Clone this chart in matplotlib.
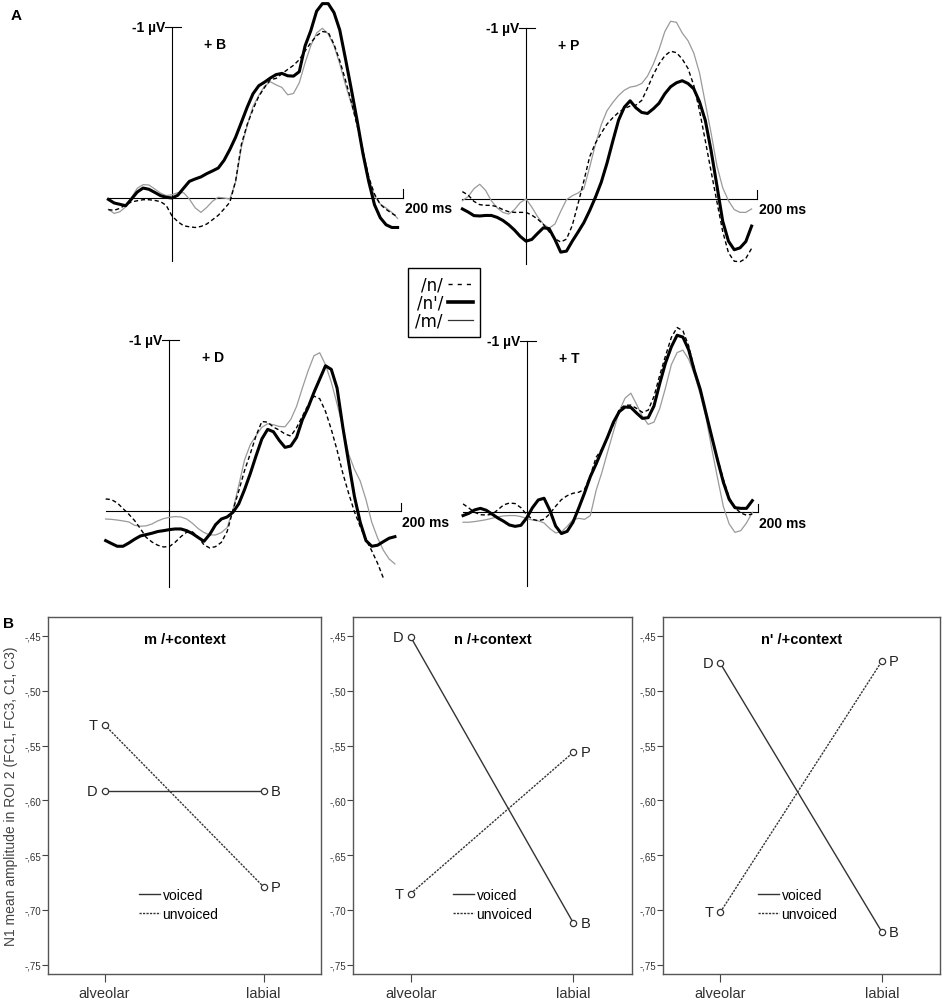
import numpy as np
import matplotlib.pyplot as plt
from matplotlib.lines import Line2D

plt.rcParams['font.family'] = ['Liberation Sans', 'DejaVu Sans']
NARROW = ['Liberation Sans Narrow', 'Liberation Sans', 'DejaVu Sans']

W, H = 945, 1004
fig = plt.figure(figsize=(W / 100, H / 100), dpi=100)


def px_axes(l, t, r, b):
    return fig.add_axes([l / W, 1 - b / H, (r - l) / W, (b - t) / H])


# ---------------- data: panel A (ERP waveforms in µV, negative plotted up) ----------------
t_ms = np.arange(-55, 196, 5)
erp_contexts = ['+ B', '+ P', '+ D', '+ T']

n_B = [0.068, 0.072, 0.06, 0.039, 0.023, 0.016, 0.01, 0.01, 0.014, 0.021,
       0.043, 0.105, 0.138, 0.162, 0.168, 0.172, 0.166, 0.152, 0.127, 0.101,
       0.064, 0.025, -0.10, -0.314, -0.429, -0.517, -0.593, -0.645, -0.69, -0.698,
       -0.725, -0.75, -0.774, -0.807, -0.858, -0.906, -0.947, -0.971, -0.967, -0.897,
       -0.801, -0.686, -0.56, -0.423, -0.273, -0.123, -0.023, 0.037, 0.066, 0.09, 0.109]
np_B = [0.008, 0.029, 0.037, 0.045, 0.006, -0.035, -0.058, -0.051, -0.033, -0.014,
        -0.004, 0.0, -0.016, -0.057, -0.097, -0.111, -0.123, -0.142, -0.158, -0.175,
        -0.22, -0.283, -0.355, -0.442, -0.53, -0.608, -0.655, -0.676, -0.70, -0.72,
        -0.727, -0.713, -0.711, -0.737, -0.887, -0.977, -1.09, -1.134, -1.134, -1.082,
        -0.98, -0.81, -0.634, -0.452, -0.26, -0.097, 0.039, 0.115, 0.156, 0.172, 0.172]
m_B = [0.066, 0.09, 0.08, 0.051, -0.004, -0.057, -0.078, -0.076, -0.053, -0.029,
       -0.014, -0.019, -0.031, -0.031, 0.006, 0.057, 0.084, 0.055, 0.019, -0.004,
       0.0, 0.006, -0.094, -0.296, -0.423, -0.534, -0.598, -0.653, -0.678, -0.66,
       -0.645, -0.602, -0.61, -0.672, -0.788, -0.889, -0.963, -0.99, -0.957, -0.889,
       -0.782, -0.659, -0.55, -0.435, -0.283, -0.115, -0.012, 0.035, 0.058, 0.084, 0.119]

n_P = [-0.043, -0.023, 0.014, 0.033, 0.037, 0.037, 0.045, 0.062, 0.074, 0.078,
       0.078, 0.078, 0.094, 0.117, 0.148, 0.191, 0.232, 0.251, 0.234, 0.154,
       0.027, -0.105, -0.246, -0.326, -0.384, -0.437, -0.474, -0.505, -0.528, -0.542,
       -0.548, -0.575, -0.647, -0.725, -0.788, -0.836, -0.862, -0.854, -0.817, -0.762,
       -0.663, -0.515, -0.339, -0.16, 0.016, 0.189, 0.314, 0.363, 0.366, 0.347, 0.288]
np_P = [0.058, 0.076, 0.097, 0.099, 0.096, 0.096, 0.107, 0.125, 0.15, 0.181,
        0.218, 0.246, 0.236, 0.201, 0.168, 0.173, 0.236, 0.31, 0.304, 0.246,
        0.193, 0.138, 0.068, -0.01, -0.097, -0.209, -0.337, -0.46, -0.536, -0.573,
        -0.532, -0.505, -0.499, -0.526, -0.559, -0.614, -0.655, -0.678, -0.69, -0.674,
        -0.643, -0.567, -0.458, -0.281, -0.078, 0.129, 0.246, 0.296, 0.285, 0.248, 0.158]
m_P = [0.01, -0.014, -0.06, -0.086, -0.051, 0.01, 0.051, 0.078, 0.088, 0.062,
       0.021, 0.0, 0.047, 0.103, 0.146, 0.17, 0.146, 0.072, 0.004, -0.019,
       -0.035, -0.06, -0.185, -0.318, -0.433, -0.515, -0.563, -0.604, -0.635, -0.653,
       -0.659, -0.674, -0.717, -0.786, -0.873, -0.977, -1.037, -1.031, -0.969, -0.924,
       -0.852, -0.735, -0.559, -0.384, -0.195, -0.066, 0.01, 0.062, 0.078, 0.078, 0.058]

n_D = [-0.072, -0.068, -0.049, -0.016, 0.017, 0.054, 0.101, 0.152, 0.179, 0.198,
       0.208, 0.206, 0.181, 0.148, 0.122, 0.12, 0.15, 0.196, 0.214, 0.206,
       0.181, 0.118, -0.006, -0.118, -0.237, -0.336, -0.441, -0.524, -0.52, -0.491,
       -0.474, -0.451, -0.439, -0.488, -0.554, -0.62, -0.672, -0.657, -0.583, -0.478,
       -0.357, -0.221, -0.105, 0.002, 0.089, 0.165, 0.231, 0.303, 0.389, np.nan, np.nan]
np_D = [0.171, 0.188, 0.204, 0.204, 0.185, 0.163, 0.144, 0.136, 0.128, 0.118,
        0.113, 0.107, 0.103, 0.103, 0.113, 0.13, 0.153, 0.175, 0.134, 0.078,
        0.045, 0.033, 0.006, -0.043, -0.126, -0.22, -0.324, -0.422, -0.478, -0.464,
        -0.414, -0.373, -0.381, -0.431, -0.534, -0.606, -0.693, -0.771, -0.849, -0.828,
        -0.719, -0.49, -0.286, -0.087, 0.064, 0.171, 0.204, 0.198, 0.177, 0.157, 0.148]
m_D = [0.045, 0.047, 0.051, 0.056, 0.062, 0.082, 0.087, 0.085, 0.074, 0.056,
       0.043, 0.035, 0.031, 0.033, 0.045, 0.07, 0.101, 0.124, 0.138, 0.138,
       0.124, 0.095, -0.008, -0.15, -0.299, -0.389, -0.441, -0.49, -0.511, -0.505,
       -0.495, -0.493, -0.536, -0.612, -0.719, -0.82, -0.907, -0.925, -0.855, -0.754,
       -0.626, -0.491, -0.334, -0.245, -0.177, -0.068, 0.064, 0.155, 0.227, 0.278, 0.307]

n_T = [-0.049, -0.025, 0.0, 0.014, 0.016, 0.012, -0.014, -0.043, -0.054, -0.051,
       -0.027, 0.014, 0.041, 0.049, 0.041, 0.008, -0.035, -0.074, -0.097, -0.111,
       -0.117, -0.134, -0.214, -0.321, -0.369, -0.435, -0.513, -0.60, -0.625, -0.625,
       -0.606, -0.583, -0.596, -0.676, -0.80, -0.913, -1.02, -1.078, -1.059, -0.971,
       -0.831, -0.717, -0.575, -0.433, -0.311, -0.192, -0.085, -0.027, 0.004, 0.017, 0.01]
np_T = [0.019, 0.006, -0.014, -0.023, -0.012, 0.01, 0.033, 0.052, 0.074, 0.082,
        0.076, 0.033, -0.027, -0.072, -0.082, -0.012, 0.08, 0.124, 0.111, 0.058,
        -0.025, -0.113, -0.208, -0.282, -0.363, -0.441, -0.526, -0.587, -0.614, -0.612,
        -0.579, -0.548, -0.552, -0.62, -0.752, -0.872, -0.965, -1.033, -1.022, -0.948,
        -0.824, -0.717, -0.577, -0.439, -0.303, -0.175, -0.076, -0.027, -0.023, -0.023, -0.068]
m_T = [0.058, 0.058, 0.054, 0.049, 0.043, 0.035, 0.027, 0.021, 0.019, 0.019,
       0.025, 0.037, 0.045, 0.05, 0.062, 0.095, 0.12, 0.115, 0.082, 0.043,
       0.035, 0.041, 0.019, -0.128, -0.233, -0.354, -0.472, -0.591, -0.666, -0.695,
       -0.629, -0.559, -0.513, -0.526, -0.606, -0.727, -0.861, -0.932, -0.946, -0.893,
       -0.804, -0.688, -0.552, -0.369, -0.198, -0.033, 0.068, 0.117, 0.107, 0.062, 0.0]

erp_n = [n_B, n_P, n_D, n_T]
erp_nprime = [np_B, np_P, np_D, np_T]
erp_m = [m_B, m_P, m_D, m_T]

# ---------------- data: panel B (N1 mean amplitude) ----------------
b_contexts = ['m /+context', 'n /+context', "n' /+context"]
places = ['alveolar', 'labial']
voiced = [[-0.591, -0.591], [-0.451, -0.712], [-0.475, -0.720]]
unvoiced = [[-0.531, -0.679], [-0.685, -0.556], [-0.702, -0.473]]
voiced_letters = ['D', 'B']
unvoiced_letters = ['T', 'P']
y_ticks = [-0.45, -0.50, -0.55, -0.60, -0.65, -0.70, -0.75]

# ---------------- panel A ----------------
XS, YS = 1.157, 171.4  # px per ms, px per µV
origins = [(172, 199), (526, 200), (169.3, 512.3), (526.7, 513.3)]
vline_bottom = [0.37, 0.38, 0.44, 0.43]
DASH = (0, (3, 2))
GREY = '#9a9a9a'

for i, ctx in enumerate(erp_contexts):
    ox, oy = origins[i]
    ax = px_axes(ox - 75, oy - 200, ox + 245, oy + 85)
    ax.set_xlim(-75 / XS, 245 / XS)
    ax.set_ylim(85 / YS, -200 / YS)
    ax.axis('off')
    # hand-drawn axes
    ax.plot([-55, 200], [0, 0], color='black', lw=0.8)
    ax.plot([0, 0], [-1, vline_bottom[i]], color='black', lw=0.8)
    ax.plot([-6, 8], [-1, -1], color='black', lw=0.8)
    ax.plot([200, 200], [-0.05, 0], color='black', lw=0.8)
    ax.text(-6, -1, '-1 µV', ha='right', va='center', fontsize=10, fontweight='bold')
    ax.text(201, 0.06, '200 ms', ha='left', va='center', fontsize=10, fontweight='bold')
    ax.text(28, -0.9, ctx, ha='left', va='center', fontsize=10, fontweight='bold')
    # waveforms
    ax.plot(t_ms, erp_m[i], color=GREY, lw=0.9, solid_joinstyle='round')
    ax.plot(t_ms, erp_n[i], color='black', lw=1.0, ls=DASH)
    ax.plot(t_ms, erp_nprime[i], color='black', lw=2.2, solid_joinstyle='round')

leg_handles = [Line2D([], [], color='black', lw=1.0, ls=(0, (3, 3.6))),
               Line2D([], [], color='black', lw=2.6),
               Line2D([], [], color='#333333', lw=0.9)]
legA = fig.legend(leg_handles, ['/n/', "/n'/", '/m/'], loc='upper left',
                  bbox_to_anchor=(408 / W, 1 - 269 / H), markerfirst=False,
                  prop={'family': 'DejaVu Sans', 'size': 12},
                  handlelength=1.5, handletextpad=0.3, labelspacing=0.0, borderpad=0.45,
                  borderaxespad=0, fancybox=False, framealpha=1, edgecolor='black')
legA.get_frame().set_linewidth(1.0)

fig.text(11 / W, 1 - 16 / H, 'A', ha='left', va='center', fontsize=11, fontweight='bold')

# ---------------- panel B ----------------
b_rects = [(48, 618, 321, 975), (353, 618, 632, 975), (663, 618, 940, 975)]
legend_x = [0.333, 0.358, 0.343]
LINEC = '#333333'

for k, ctx in enumerate(b_contexts):
    ax = px_axes(*b_rects[k])
    ax.plot([0, 1], voiced[k], color=LINEC, lw=1.0, marker='o', ms=4.5,
            mfc='white', mec=LINEC, mew=0.9)
    ax.plot([0, 1], unvoiced[k], color=LINEC, lw=1.0, ls=(0, (1.6, 0.9)), marker='o', ms=4.5,
            mfc='white', mec=LINEC, mew=0.9)
    for vals, letters in ((voiced[k], voiced_letters), (unvoiced[k], unvoiced_letters)):
        ax.annotate(letters[0], (0, vals[0]), xytext=(-5, 0), textcoords='offset points',
                    ha='right', va='center', fontsize=10.5, color='#222222')
        ax.annotate(letters[1], (1, vals[1]), xytext=(5, 0), textcoords='offset points',
                    ha='left', va='center', fontsize=10.5, color='#222222')
    ax.set_xlim(-0.355, 1.36)
    ax.set_ylim(-0.7584, -0.4327)
    ax.set_yticks(y_ticks, labels=['-,%02d' % round(-v * 100) for v in y_ticks],
                  fontsize=7, family=NARROW)
    ax.set_xticks([0, 1], labels=places, fontsize=10.5)
    ax.tick_params(axis='y', length=4, width=0.8, colors='#444444', pad=1)
    ax.tick_params(axis='x', length=6, width=0.8, colors='#444444', pad=3)
    for lab in ax.get_yticklabels() + ax.get_xticklabels():
        lab.set_color('#333333')
    for sp in ax.spines.values():
        sp.set_color('#555555')
        sp.set_linewidth(1.0)
    ax.text(0.5, 1 - 22 / 357, ctx, transform=ax.transAxes, ha='center', va='center',
            fontsize=10.5, fontweight='bold', family=NARROW)
    hb = [Line2D([], [], color=LINEC, lw=1.0),
          Line2D([], [], color=LINEC, lw=1.0, ls=(0, (1.6, 0.9)))]
    ax.legend(hb, ['voiced', 'unvoiced'], loc='upper left', bbox_to_anchor=(legend_x[k], 0.24),
              frameon=False, fontsize=10, handlelength=1.5, handletextpad=0.2,
              labelspacing=0.35, borderpad=0, borderaxespad=0)
    if k == 0:
        ax.set_ylabel('N1 mean amplitude in ROI 2 (FC1, FC3, C1, C3)', fontsize=10, color='#444444')
        ax.yaxis.set_label_coords(-0.11, 0.5)

fig.text(3 / W, 1 - 624 / H, 'B', ha='left', va='center', fontsize=11, fontweight='bold')

fig.savefig('out.png', dpi=100)
